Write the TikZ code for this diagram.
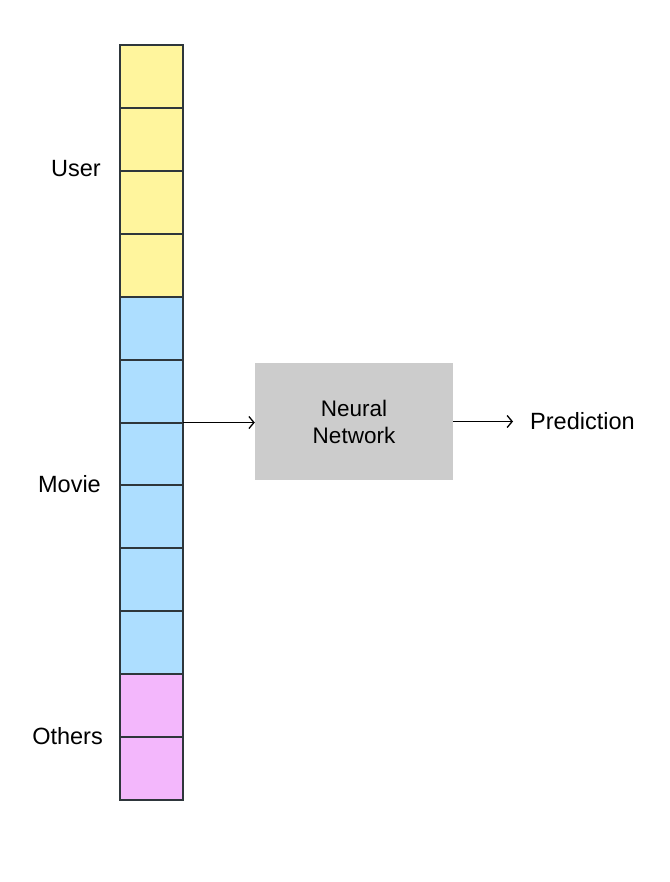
\documentclass[tikz,border=0pt]{standalone}
\usepackage{fontspec}
\setmainfont{Liberation Sans}
\usetikzlibrary{arrows.meta}
\definecolor{cyellow}{HTML}{FFF59D}
\definecolor{cblue}{HTML}{ADDEFF}
\definecolor{cpink}{HTML}{F3B7FC}
\definecolor{cgray}{HTML}{CCCCCC}
\definecolor{cborder}{HTML}{2E363B}
\tikzset{
  cellbox/.style={minimum width=63pt, minimum height=62.92pt, inner sep=0pt, outer sep=0pt, anchor=north west},
  cellline/.style={draw=cborder, line width=2pt},
  lbl/.style={font=\fontsize{23.5}{28}\selectfont, anchor=east, inner sep=0pt},
  arr/.style={line width=1.3pt, -{Straight Barb[length=5pt,width=12pt,line width=1.3pt]}},
}
\begin{document}
\begin{tikzpicture}[x=1pt,y=-1pt]
\useasboundingbox (0,0) rectangle (669,882);
\foreach \i in {0,...,3} {\node[cellbox, fill=cyellow] (y\i) at (120,{45+62.92*\i}) {};}
\foreach \i in {0,...,5} {\node[cellbox, fill=cblue] (b\i) at (120,{45+62.92*(\i+4)}) {};}
\foreach \i in {0,1} {\node[cellbox, fill=cpink] (p\i) at (120,{45+62.92*(\i+10)}) {};}
\foreach \n in {y0,y1,y2,y3,b0,b1,b2,b3,b4,b5,p0,p1} {\draw[cellline] (\n.north west) rectangle (\n.south east);}
\node[lbl] (user) at (101,169) {User};
\node[lbl] (movie) at (101,484) {Movie};
\node[lbl] (others) at (103,736) {Others};
\node[fill=cgray, minimum width=198pt, minimum height=117pt, inner sep=0pt, align=center, font=\fontsize{22.5}{27}\selectfont] (nn) at (354,421.5) {Neural\\Network};
\node[anchor=west, inner sep=0pt, font=\fontsize{23.5}{28}\selectfont] (pred) at (530,421.5) {Prediction};
\coordinate (pend) at ([xshift=-17pt]pred.west);
\draw[arr] (b2.north east) -- (b2.north east -| nn.west);
\draw[arr] (nn.east) -- (nn.east -| pend);
\end{tikzpicture}
\end{document}
